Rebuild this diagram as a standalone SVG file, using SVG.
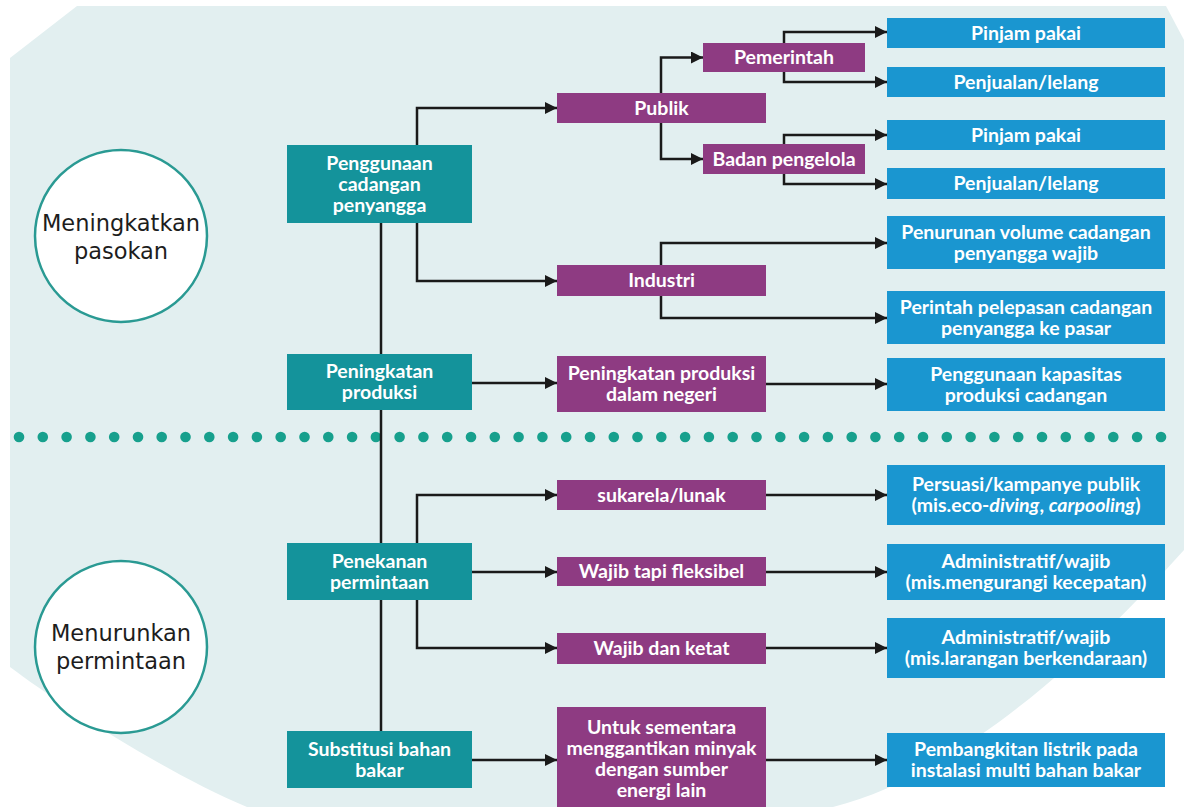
<svg xmlns="http://www.w3.org/2000/svg" width="1184" height="807" viewBox="0 0 1184 807">
<style>
.bg{fill:#e2eff0}
.teal{fill:#14939b}
.purple{fill:#8e3b82}
.blue{fill:#1a96d0}
.t{font-family:Lato,"Liberation Sans",sans-serif;font-weight:700;font-size:19.5px;fill:#ffffff;text-anchor:middle}
.ct{font-family:"DejaVu Sans","Liberation Sans",sans-serif;font-size:22.5px;fill:#1d1d1d;text-anchor:middle}
.circ{fill:#ffffff;stroke:#2a9a93;stroke-width:2.5}
.ln{fill:none;stroke:#1a1a1a;stroke-width:2.5}
.arr{fill:none;stroke:#1a1a1a;stroke-width:2.5;marker-end:url(#ah)}
.dot{fill:#17a08d}
</style>
<defs>
<marker id="ah" markerUnits="userSpaceOnUse" viewBox="0 0 12 12" markerWidth="12" markerHeight="12" refX="12" refY="6" orient="auto">
<path d="M0,0 L12,6 L0,12 z" fill="#1a1a1a"/>
</marker>
</defs>
<rect x="0" y="0" width="1184" height="807" fill="#ffffff"/>
<path class="bg" d="M10,58 L77,6 L1166,6 L1184,40 L1184,550 C1130,610 980,770 833,807 L247,807 C170,775 60,705 10,667 Z"/>

<g id="dots">
<circle class="dot" cx="19" cy="437" r="5.3"/><circle class="dot" cx="42.8" cy="437" r="5.3"/><circle class="dot" cx="66.6" cy="437" r="5.3"/><circle class="dot" cx="90.4" cy="437" r="5.3"/><circle class="dot" cx="114.2" cy="437" r="5.3"/><circle class="dot" cx="138" cy="437" r="5.3"/><circle class="dot" cx="161.7" cy="437" r="5.3"/><circle class="dot" cx="185.5" cy="437" r="5.3"/><circle class="dot" cx="209.3" cy="437" r="5.3"/><circle class="dot" cx="233.1" cy="437" r="5.3"/><circle class="dot" cx="256.9" cy="437" r="5.3"/><circle class="dot" cx="280.7" cy="437" r="5.3"/><circle class="dot" cx="304.5" cy="437" r="5.3"/><circle class="dot" cx="328.3" cy="437" r="5.3"/><circle class="dot" cx="352.1" cy="437" r="5.3"/><circle class="dot" cx="375.9" cy="437" r="5.3"/><circle class="dot" cx="399.6" cy="437" r="5.3"/><circle class="dot" cx="423.4" cy="437" r="5.3"/><circle class="dot" cx="447.2" cy="437" r="5.3"/><circle class="dot" cx="471" cy="437" r="5.3"/><circle class="dot" cx="494.8" cy="437" r="5.3"/><circle class="dot" cx="518.6" cy="437" r="5.3"/><circle class="dot" cx="542.4" cy="437" r="5.3"/><circle class="dot" cx="566.2" cy="437" r="5.3"/><circle class="dot" cx="590" cy="437" r="5.3"/><circle class="dot" cx="613.8" cy="437" r="5.3"/><circle class="dot" cx="637.5" cy="437" r="5.3"/><circle class="dot" cx="661.3" cy="437" r="5.3"/><circle class="dot" cx="685.1" cy="437" r="5.3"/><circle class="dot" cx="708.9" cy="437" r="5.3"/><circle class="dot" cx="732.7" cy="437" r="5.3"/><circle class="dot" cx="756.5" cy="437" r="5.3"/><circle class="dot" cx="780.3" cy="437" r="5.3"/><circle class="dot" cx="804.1" cy="437" r="5.3"/><circle class="dot" cx="827.9" cy="437" r="5.3"/><circle class="dot" cx="851.7" cy="437" r="5.3"/><circle class="dot" cx="875.4" cy="437" r="5.3"/><circle class="dot" cx="899.2" cy="437" r="5.3"/><circle class="dot" cx="923" cy="437" r="5.3"/><circle class="dot" cx="946.8" cy="437" r="5.3"/><circle class="dot" cx="970.6" cy="437" r="5.3"/><circle class="dot" cx="994.4" cy="437" r="5.3"/><circle class="dot" cx="1018.2" cy="437" r="5.3"/><circle class="dot" cx="1042" cy="437" r="5.3"/><circle class="dot" cx="1065.8" cy="437" r="5.3"/><circle class="dot" cx="1089.6" cy="437" r="5.3"/><circle class="dot" cx="1113.3" cy="437" r="5.3"/><circle class="dot" cx="1137.1" cy="437" r="5.3"/><circle class="dot" cx="1161" cy="437" r="5.3"/>
</g>

<g id="connectors">
<path class="ln" d="M381,223 V731"/>
<path class="arr" d="M417,145 V108 H557"/>
<path class="arr" d="M417,223 V281 H557"/>
<path class="arr" d="M661,93 V57.5 H703"/>
<path class="arr" d="M661,123 V159 H703"/>
<path class="arr" d="M784,43 V32 H887"/>
<path class="arr" d="M784,72 V82 H887"/>
<path class="arr" d="M784,144 V135 H887"/>
<path class="arr" d="M784,174 V184 H887"/>
<path class="arr" d="M661,265 V243 H887"/>
<path class="arr" d="M661,296 V318 H887"/>
<path class="arr" d="M472,383 H557"/>
<path class="arr" d="M766,384 H887"/>
<path class="arr" d="M417,543 V495 H557"/>
<path class="arr" d="M472,572 H557"/>
<path class="arr" d="M417,600 V648 H557"/>
<path class="arr" d="M766,495 H887"/>
<path class="arr" d="M766,572 H887"/>
<path class="arr" d="M766,648 H887"/>
<path class="arr" d="M472,760 H557"/>
<path class="arr" d="M766,760 H887"/>
</g>

<g id="circle-supply"><circle class="circ" cx="121" cy="236" r="86"/><text class="ct" x="121" y="231">Meningkatkan</text><text class="ct" x="121" y="259">pasokan</text></g>
<g id="circle-demand"><circle class="circ" cx="121" cy="647" r="86"/><text class="ct" x="121" y="641">Menurunkan</text><text class="ct" x="121" y="669">permintaan</text></g>

<g id="t-penggunaan"><rect class="teal" x="287" y="145" width="185" height="78"/><text class="t" x="379.5" y="170">Penggunaan</text><text class="t" x="379.5" y="191">cadangan</text><text class="t" x="379.5" y="212">penyangga</text></g>
<g id="t-peningkatan"><rect class="teal" x="287" y="354" width="185" height="56"/><text class="t" x="379.5" y="378">Peningkatan</text><text class="t" x="379.5" y="399">produksi</text></g>
<g id="t-penekanan"><rect class="teal" x="287" y="543" width="185" height="57"/><text class="t" x="379.5" y="567.5">Penekanan</text><text class="t" x="379.5" y="588.5">permintaan</text></g>
<g id="t-substitusi"><rect class="teal" x="287" y="731" width="185" height="57"/><text class="t" x="379.5" y="755.5">Substitusi bahan</text><text class="t" x="379.5" y="776.5">bakar</text></g>

<g id="p-publik"><rect class="purple" x="557" y="93" width="209" height="30"/><text class="t" x="661.5" y="114.5">Publik</text></g>
<g id="p-industri"><rect class="purple" x="557" y="265" width="209" height="31"/><text class="t" x="661.5" y="287">Industri</text></g>
<g id="p-produksi"><rect class="purple" x="557" y="356" width="209" height="56"/><text class="t" x="661.5" y="380">Peningkatan produksi</text><text class="t" x="661.5" y="401">dalam negeri</text></g>
<g id="p-pemerintah"><rect class="purple" x="703" y="43" width="162" height="29"/><text class="t" x="784" y="64">Pemerintah</text></g>
<g id="p-badan"><rect class="purple" x="703" y="144" width="162" height="30"/><text class="t" x="784" y="165.5">Badan pengelola</text></g>
<g id="p-sukarela"><rect class="purple" x="557" y="480" width="209" height="30"/><text class="t" x="661.5" y="501.5">sukarela/lunak</text></g>
<g id="p-wajib-fleksibel"><rect class="purple" x="557" y="557" width="209" height="29"/><text class="t" x="661.5" y="578">Wajib tapi fleksibel</text></g>
<g id="p-wajib-ketat"><rect class="purple" x="557" y="633" width="209" height="31"/><text class="t" x="661.5" y="655">Wajib dan ketat</text></g>
<g id="p-untuk"><rect class="purple" x="557" y="707" width="209" height="110"/><text class="t" x="661.5" y="734">Untuk sementara</text><text class="t" x="661.5" y="755">menggantikan minyak</text><text class="t" x="661.5" y="776">dengan sumber</text><text class="t" x="661.5" y="797">energi lain</text></g>

<g id="b-pinjam1"><rect class="blue" x="887" y="18" width="278" height="30"/><text class="t" x="1026" y="39.5">Pinjam pakai</text></g>
<g id="b-penjualan1"><rect class="blue" x="887" y="67" width="278" height="30"/><text class="t" x="1026" y="88.5">Penjualan/lelang</text></g>
<g id="b-pinjam2"><rect class="blue" x="887" y="120" width="278" height="30"/><text class="t" x="1026" y="141.5">Pinjam pakai</text></g>
<g id="b-penjualan2"><rect class="blue" x="887" y="168" width="278" height="31"/><text class="t" x="1026" y="190">Penjualan/lelang</text></g>
<g id="b-penurunan"><rect class="blue" x="887" y="216" width="278" height="53"/><text class="t" x="1026" y="238.5">Penurunan volume cadangan</text><text class="t" x="1026" y="259.5">penyangga wajib</text></g>
<g id="b-perintah"><rect class="blue" x="887" y="291" width="278" height="53"/><text class="t" x="1026" y="313.5">Perintah pelepasan cadangan</text><text class="t" x="1026" y="334.5">penyangga ke pasar</text></g>
<g id="b-kapasitas"><rect class="blue" x="887" y="358" width="278" height="53"/><text class="t" x="1026" y="380.5">Penggunaan kapasitas</text><text class="t" x="1026" y="401.5">produksi cadangan</text></g>
<g id="b-persuasi"><rect class="blue" x="887" y="465" width="278" height="60"/><text class="t" x="1026" y="491">Persuasi/kampanye publik</text><text class="t" x="1026" y="512">(mis.eco-<tspan font-style="italic">diving</tspan>, <tspan font-style="italic">carpooling</tspan>)</text></g>
<g id="b-admin1"><rect class="blue" x="887" y="544" width="278" height="56"/><text class="t" x="1026" y="568">Administratif/wajib</text><text class="t" x="1026" y="589">(mis.mengurangi kecepatan)</text></g>
<g id="b-admin2"><rect class="blue" x="887" y="618" width="278" height="60"/><text class="t" x="1026" y="644">Administratif/wajib</text><text class="t" x="1026" y="665">(mis.larangan berkendaraan)</text></g>
<g id="b-pembangkitan"><rect class="blue" x="887" y="733" width="278" height="54"/><text class="t" x="1026" y="756">Pembangkitan listrik pada</text><text class="t" x="1026" y="777">instalasi multi bahan bakar</text></g>
</svg>
